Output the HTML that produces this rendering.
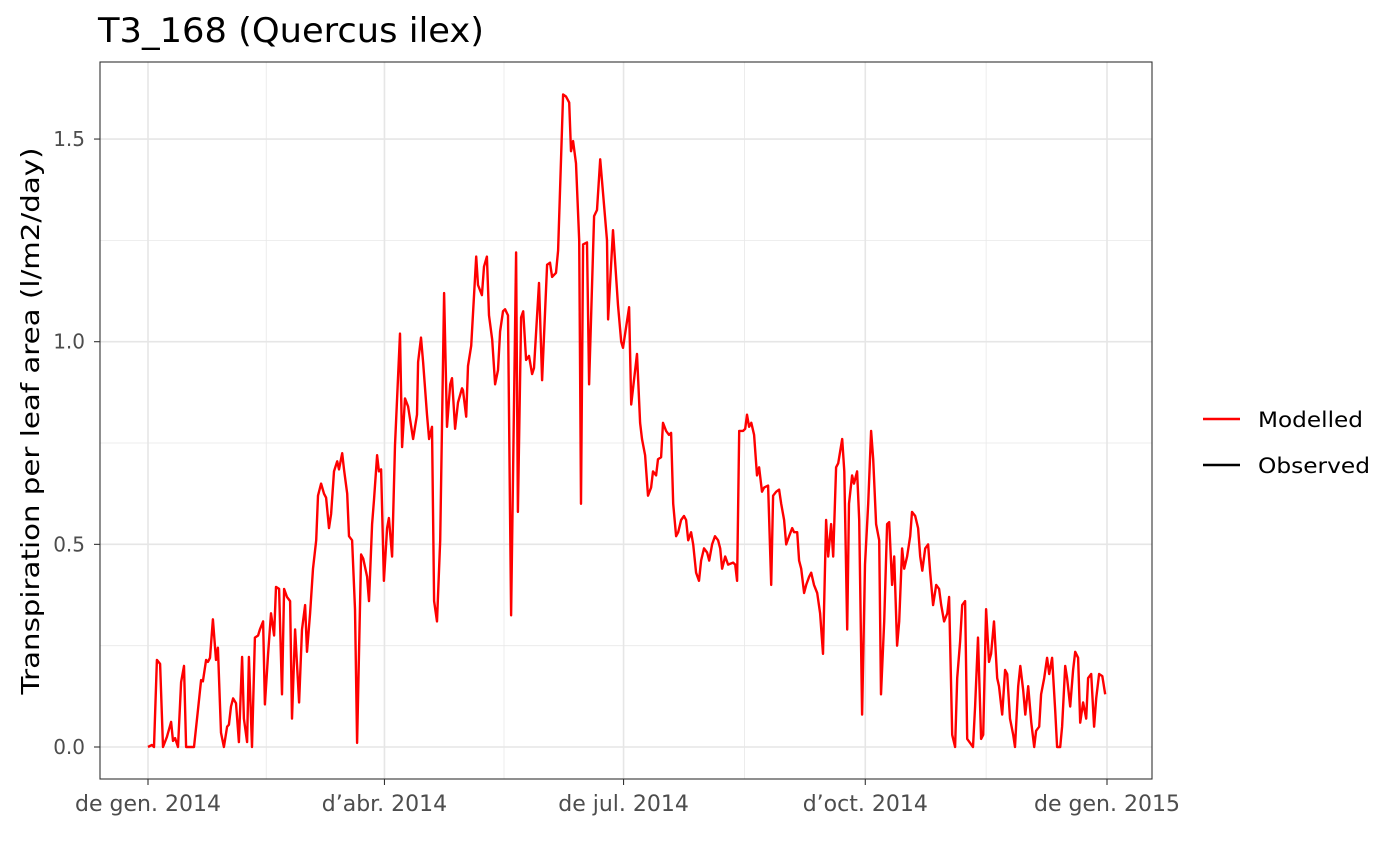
<!DOCTYPE html>
<html><head><meta charset="utf-8"><style>
html,body{margin:0;padding:0;background:#fff;}
svg{display:block;font-family:"DejaVu Sans","Liberation Sans",sans-serif;}
</style></head><body>
<svg id="chart" width="1400" height="865" viewBox="0 0 1400 865">
<text x="98" y="42" font-size="34" textLength="386" lengthAdjust="spacingAndGlyphs" fill="#000">T3_168 (Quercus ilex)</text>
<g id="grid"></g>
<g id="series"></g>
<rect x="100" y="62" width="1052" height="717" fill="none" stroke="#333" stroke-width="1.1"/>
<g id="axes"></g>
<text transform="translate(39,421) rotate(-90)" text-anchor="middle" font-size="25" textLength="547" lengthAdjust="spacingAndGlyphs" fill="#000">Transpiration per leaf area (l/m2/day)</text>
<g>
<line x1="1203" y1="419" x2="1240" y2="419" stroke="#ff0000" stroke-width="2.4"/>
<text x="1258" y="427" font-size="21" textLength="105" lengthAdjust="spacingAndGlyphs" fill="#000">Modelled</text>
<line x1="1203" y1="465" x2="1240" y2="465" stroke="#000" stroke-width="2.4"/>
<text x="1258" y="473" font-size="21" textLength="112" lengthAdjust="spacingAndGlyphs" fill="#000">Observed</text>
</g>
</svg>
<script>
const days=[0,1.5,2.3,3.4,4.6,5.7,7.2,8.8,9.5,10.3,11.4,12.6,13.7,14.5,17.5,19.0,20.2,20.9,22.1,22.8,23.6,24.7,25.9,26.6,27.8,28.9,30.1,30.8,31.6,32.4,33.5,34.6,35.8,36.5,37.7,38.4,39.6,40.7,41.9,42.6,43.8,44.5,45.7,46.8,48.0,48.7,49.9,51.0,51.8,52.9,54.1,54.8,56.0,57.5,58.6,59.8,60.5,61.7,62.8,64.0,64.7,65.9,67.0,67.8,68.9,69.7,70.8,72.0,72.7,73.9,74.6,75.8,76.5,77.7,78.8,79.6,81.1,81.9,83.4,84.1,85.3,86.0,87.2,87.9,88.7,89.8,
91.0,91.7,92.9,94.0,95.9,96.7,97.8,99.0,100.9,102.4,102.8,103.9,104.7,106.2,107.0,108.1,108.9,110.0,111.2,112.7,113.8,115.0,115.7,116.9,118.0,119.5,119.9,121.1,121.8,123.0,124.9,125.6,127.1,127.9,129.0,129.8,131.0,132.1,133.2,134.0,135.1,135.9,137.0,138.2,140.1,140.8,142.0,142.8,143.9,145.0,146.2,146.9,148.8,150.0,151.9,153.0,153.8,155.3,156.1,158.0,159.1,160.3,161.0,161.8,162.9,164.1,164.8,165.6,167.1,167.9,169.8,170.9,172.1,174.7,175.1,177.0,178.9,180.1,180.8,183.1,183.9,186.1,187.3,
188.0,189.2,190.3,191.5,192.2,193.4,194.1,195.3,196.0,197.2,198.3,199.1,199.9,201.0,201.8,202.9,204.0,204.8,205.6,206.7,207.5,208.6,209.7,210.5,211.6,212.8,213.6,214.7,215.8,217.0,217.8,218.5,219.7,220.8,222.7,223.5,224.2,225.0,226.5,227.3,228.0,228.8,229.6,230.7,231.8,232.6,233.7,234.5,236.0,237.2,237.9,239.1,240.2,241.0,242.1,242.9,244.0,245.2,245.9,247.1,247.8,248.6,249.7,250.5,251.6,252.4,253.5,254.7,255.8,256.9,258.1,258.9,260.0,260.8,261.9,262.7,264.2,265.0,266.1,266.8,268.0,268.7,269.9,270.7,271.8,272.9,274.1,275.2,276.0,277.1,278.3,279.0,280.2,281.3,282.1,283.2,284.0,285.1,285.9,287.0,287.8,288.9,290.1,290.8,292.0,293.1,293.9,294.7,295.8,296.9,297.7,298.8,300.0,301.1,301.9,303.0,304.2,304.9,306.1,307.2,308.0,309.1,309.9,311.0,311.8,312.9,314.0,314.8,315.9,317.1,317.9,319.0,320.1,320.9,322.0,323.2,323.9,325.1,326.2,327.0,328.1,329.3,330.0,331.2,332.0,333.1,333.9,335.0,336.2,337.3,338.0,339.2,339.9,341.1,342.2,343.0,344.1,345.3,346.0,347.2,347.9,349.1,349.8,351.0,352.1,352.9,354.0,354.8,355.9,357.1,357.8,359.0,360.1,360.9,362.0,363.2,364.3];
const modelled=[0,0.005,0,0.215,0.205,0,0.025,0.062,0.015,0.022,0,0.16,0.2,0,0,0.09,0.165,0.162,0.215,0.21,0.22,0.315,0.215,0.245,0.035,0,0.05,0.055,0.1,0.12,0.108,0.012,0.222,0.07,0.012,0.222,0,0.27,0.275,0.29,0.31,0.105,0.23,0.33,0.275,0.395,0.39,0.13,0.39,0.37,0.36,0.07,0.29,0.11,0.29,0.35,0.235,0.33,0.44,0.51,0.62,0.65,0.625,0.615,0.54,0.575,0.68,0.705,0.685,0.725,0.685,0.625,0.52,0.51,0.34,0.01,0.475,0.465,0.42,0.36,0.55,0.61,0.72,0.68,0.685,0.41,
0.54,0.565,0.47,0.745,1.02,0.74,0.86,0.84,0.76,0.82,0.95,1.01,0.95,0.82,0.76,0.79,0.36,0.31,0.51,1.12,0.79,0.895,0.91,0.785,0.85,0.885,0.88,0.815,0.94,0.99,1.21,1.14,1.115,1.185,1.21,1.065,1.005,0.895,0.93,1.025,1.075,1.08,1.065,0.325,1.22,0.58,1.06,1.075,0.955,0.965,0.92,0.935,1.145,0.905,1.19,1.195,1.16,1.17,1.225,1.61,1.605,1.59,1.47,1.495,1.44,1.25,0.6,1.24,1.245,0.895,1.31,1.325,1.45,1.25,1.055,1.275,1.09,1.0,0.985,1.085,0.845,0.97,0.8,
0.76,0.72,0.62,0.64,0.68,0.67,0.71,0.715,0.80,0.78,0.77,0.775,0.6,0.52,0.53,0.56,0.57,0.56,0.51,0.53,0.5,0.43,0.41,0.46,0.49,0.48,0.46,0.5,0.52,0.51,0.49,0.44,0.47,0.45,0.455,0.45,0.41,0.78,0.78,0.785,0.82,0.79,0.8,0.77,0.67,0.69,0.63,0.64,0.645,0.4,0.62,0.63,0.635,0.6,0.56,0.5,0.52,0.54,0.53,0.53,0.46,0.44,0.38,0.4,0.42,0.43,0.4,0.38,0.33,0.23,0.56,0.47,0.55,0.47,0.69,0.7,0.76,0.68,0.29,0.6,0.67,0.65,0.68,0.56,0.08,0.45,0.6,0.78,0.71,0.55,0.51,0.13,0.31,0.55,0.555,0.4,0.47,0.25,0.31,0.49,0.44,0.47,0.52,0.58,0.57,0.54,0.47,0.435,0.49,0.5,0.43,0.35,0.4,0.39,0.35,0.31,0.33,0.37,0.03,0,0.17,0.26,0.35,0.36,0.02,0.01,0,0.1,0.27,0.02,0.03,0.34,0.21,0.23,0.31,0.17,0.15,0.08,0.19,0.18,0.07,0.03,0,0.15,0.2,0.14,0.08,0.15,0.06,0,0.04,0.05,0.13,0.17,0.22,0.18,0.22,0.09,0,0,0.05,0.2,0.17,0.1,0.19,0.235,0.22,0.06,0.11,0.07,0.17,0.18,0.05,0.12,0.18,0.175,0.13];
const yTicks=[0,0.5,1.0,1.5];
const yTickLabels=["0.0","0.5","1.0","1.5"];
const xTickDays=[0,90,181,273,365];
const xTickLabels=["de gen. 2014","d\u2019abr. 2014","de jul. 2014","d\u2019oct. 2014","de gen. 2015"];

const NS="http://www.w3.org/2000/svg";
const X0=148, XPD=959/365, Y0=747, YPU=405.3;
const sx=d=>X0+d*XPD, sy=v=>Y0-v*YPU;
function mk(tag,attrs,parent){const e=document.createElementNS(NS,tag);for(const k in attrs)e.setAttribute(k,attrs[k]);parent.appendChild(e);return e;}
const grid=document.getElementById('grid'), axes=document.getElementById('axes'), series=document.getElementById('series');
mk('rect',{x:100,y:62,width:1052,height:717,fill:'#fff'},grid);
for(let i=0;i<yTicks.length-1;i++){const v=(yTicks[i]+yTicks[i+1])/2;
 const l=mk('line',{x1:100,x2:1152,y1:sy(v),y2:sy(v),stroke:'#e8e8e8','stroke-width':0.8},grid);
 
 }
for(let i=0;i<xTickDays.length-1;i++){const d=(xTickDays[i]+xTickDays[i+1])/2;
 const l=mk('line',{x1:sx(d),x2:sx(d),y1:62,y2:779,stroke:'#e8e8e8','stroke-width':0.8},grid);
 
 }
yTicks.forEach((v,i)=>{
 const l=mk('line',{x1:100,x2:1152,y1:sy(v),y2:sy(v),stroke:'#e6e6e6','stroke-width':1.6},grid);
 
 
 const t=mk('line',{x1:94,x2:100,y1:sy(v),y2:sy(v),stroke:'#333','stroke-width':1.1},axes);
 
 
 const tx=mk('text',{x:85,y:sy(v)+7,'text-anchor':'end','font-size':20,fill:'#4d4d4d'},axes);
 tx.textContent=yTickLabels[i];
 
 
});
xTickDays.forEach((d,i)=>{
 const l=mk('line',{x1:sx(d),x2:sx(d),y1:62,y2:779,stroke:'#e6e6e6','stroke-width':1.6},grid);
 
 
 const t=mk('line',{x1:sx(d),x2:sx(d),y1:779,y2:785,stroke:'#333','stroke-width':1.1},axes);
 
 
 const tx=mk('text',{x:sx(d),y:811,'text-anchor':'middle','font-size':22,fill:'#4d4d4d'},axes);
 tx.textContent=xTickLabels[i];
 
 
});
const pts=days.map((d,i)=>sx(d).toFixed(1)+','+sy(modelled[i]).toFixed(1)).join(' ');
const pl=mk('polyline',{points:pts,fill:'none',stroke:'#ff0000','stroke-width':2.4,'stroke-linejoin':'round'},series);


</script>
</body></html>
